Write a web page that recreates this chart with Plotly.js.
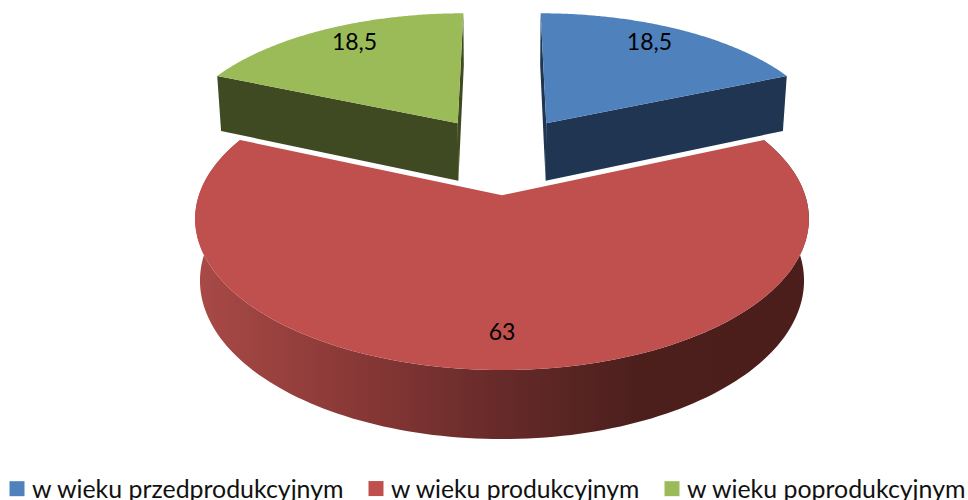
<!DOCTYPE html>
<html>
<head>
<meta charset="utf-8">
<script src="https://cdn.plot.ly/plotly-3.0.1.min.js"></script>
<style>
html,body{margin:0;padding:0;background:#fff;overflow:hidden}
.legendsymbols{transform:translateX(5px)}
.scrollbox{clip-path:none !important}
</style>
</head>
<body>
<div id="chart" style="width:968px;height:500px"></div>
<script>
// data
const categories = ['w wieku przedprodukcyjnym', 'w wieku produkcyjnym', 'w wieku poprodukcyjnym'];
const values = [18.5, 63, 18.5];
const sliceLabels = ['18,5', '63', '18,5'];
const topColors = ['#4F81BD', '#C0504D', '#9BBB59'];
const sideColors = ['#1F3552', '#4B1E1C', '#3F4A22'];
const legendX = [2, 361, 657];
const legendFontSizes = [24.9, 24.7, 24.9];

// projection of the tilted pie onto the page
const view = {cx: 502, cy: 154.5, A: 290, B: 135, C: 60, k: 0.15, q: 0.015, explode: 0.288};
const labelRadius = 0.82, labelNarrow = 0.935;

function project(u, v, h) {
  const w = 1 - view.k * v + view.q * h;
  return [view.cx + view.A * u / w, view.cy + (view.B * v + view.C * h) / w];
}
const total = values.reduce((a, b) => a + b, 0);
let acc = 0;
const slices = values.map(val => {
  const a0 = acc / total * 2 * Math.PI;
  acc += val;
  const a1 = acc / total * 2 * Math.PI;
  const mid = (a0 + a1) / 2;
  return {a0, a1, mid, ox: view.explode * Math.sin(mid), oy: -view.explode * Math.cos(mid)};
});
function rim(s, ang, h) { return project(s.ox + Math.sin(ang), s.oy - Math.cos(ang), h); }
function arc(s, h) {
  const pts = [];
  const n = 160;
  for (let i = 0; i <= n; i++) pts.push(rim(s, s.a0 + (s.a1 - s.a0) * i / n, h));
  return pts;
}
function poly(pts, extra) {
  return Object.assign({
    x: pts.map(p => p[0]), y: pts.map(p => p[1]), mode: 'none', fill: 'toself',
    type: 'scatter', showlegend: false, hoverinfo: 'skip'
  }, extra);
}
const apex = (s, h) => project(s.ox, s.oy, h);

function backSlice(i) {
  const s = slices[i];
  const traces = [];
  // the two cut faces that look at the viewer
  [s.a0, s.a1].forEach(a => {
    traces.push(poly([apex(s, 0), rim(s, a, 0), rim(s, a, 1), apex(s, 1)], {fillcolor: sideColors[i]}));
  });
  traces.push(poly([apex(s, 0)].concat(arc(s, 0)), {fillcolor: topColors[i]}));
  return traces;
}

const traces = [];
traces.push(...backSlice(0), ...backSlice(2));

// front slice: shaded wall, then top
const red = slices[1];
const wall = arc(red, 0).concat(arc(red, 1).reverse());
traces.push(poly(wall, {
  fillgradient: {
    type: 'horizontal', start: 195, stop: 808,
    colorscale: [[0, '#A94A47'], [0.25, '#8A3937'], [0.5, '#662A29'], [0.72, '#4C1F1D'], [1, '#4B1E1C']]
  }
}));
traces.push(poly([apex(red, 0)].concat(arc(red, 0)), {fillcolor: topColors[1]}));

// slice value labels
const lab = slices.map(s => project(s.ox + labelRadius * labelNarrow * Math.sin(s.mid), s.oy - labelRadius * Math.cos(s.mid), 0));
traces.push({
  type: 'scatter', mode: 'text', x: lab.map(p => p[0]), y: lab.map(p => p[1]), text: sliceLabels,
  textposition: 'middle center', textfont: {family: 'Lato, sans-serif', size: 23, color: '#000'},
  showlegend: false, hoverinfo: 'skip'
});

// legend entries, one legend per entry
const layout = {
  width: 968, height: 500,
  margin: {l: 0, r: 0, t: 0, b: 0, autoexpand: false},
  paper_bgcolor: '#fff', plot_bgcolor: '#fff',
  xaxis: {range: [0, 968], visible: false, fixedrange: true},
  yaxis: {range: [500, 0], visible: false, fixedrange: true},
  showlegend: true
};
categories.forEach((name, i) => {
  const key = i === 0 ? 'legend' : 'legend' + (i + 1);
  traces.push({
    type: 'scatter', mode: 'markers', x: [null], y: [null], name,
    legend: key,
    marker: {symbol: 'square', size: 15, color: topColors[i]},
    showlegend: true, hoverinfo: 'skip'
  });
  layout[key] = {
    x: (legendX[i] - 10) / 968, xanchor: 'left', y: 34 / 500, yanchor: 'top',
    orientation: 'h', bgcolor: 'rgba(0,0,0,0)', borderwidth: 0, itemclick: false, itemdoubleclick: false,
    entrywidth: 330, entrywidthmode: 'pixels',
    font: {family: 'Lato, sans-serif', size: legendFontSizes[i], color: '#111'}
  };
});

Plotly.newPlot('chart', traces, layout, {displayModeBar: false});
</script>
</body>
</html>
